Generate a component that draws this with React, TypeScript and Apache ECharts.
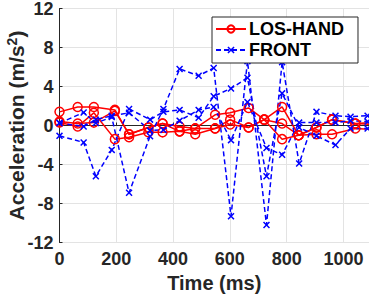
import React, { useEffect, useRef } from "react";
import * as echarts from "echarts";

const redTimes = [0, 64, 121, 195, 245, 313, 363, 423, 478, 548, 601, 666, 721, 784, 842, 905, 960, 1042, 1100];
const red1 = [1.4, 1.9, 1.9, 1.6, -0.9, -0.2, 0.2, -0.1, -0.3, 1.1, 1.3, 1.8, 0.6, 1.9, -1.0, -0.2, 0.6, 0.2, 0.3];
const red2 = [0.3, -0.1, 1.3, -1.4, -1.2, -0.7, -0.7, -0.6, -0.9, -0.3, 0.1, -0.2, 0.6, 0.2, -1.0, -0.9, -0.9, -0.3, -0.4];
const red3 = [0.4, 0.2, 0.3, 1.5, -0.9, -0.2, 0.2, -0.6, -0.3, -0.3, 0.6, -0.2, 0.6, -1.4, -1.0, -0.2, 0.6, 0.2, 0.1];

const blueTimes = [0, 85, 128, 184, 245, 319, 366, 423, 490, 543, 604, 662, 729, 784, 844, 905, 972, 1025, 1085];
const blue1 = [0.25, 1.33, 0.25, 0.86, -6.9, -1.1, 1.7, 5.8, 5.1, 5.9, -9.3, 6.6, -10.2, 6.5, -3.9, 1.4, 1.0, 0.9, 1.0];
const blue2 = [-1.06, -1.74, -5.2, -2.5, 1.7, 0.6, 1.4, 1.6, 0.8, 3.0, 3.8, 4.9, -5.2, 3.3, -0.2, -1.06, -2.0, -0.3, -0.3];
const blue3 = [0.25, -0.1, 0.6, 1.0, 1.3, -0.5, -0.45, 0.5, 1.6, 1.9, -1.5, 2.4, -2.3, -3.0, 0.3, 0.3, 0.3, 0.5, 0.4];

const seriesNames = ["LOS-HAND", "FRONT"];
const xTickMax = 1090;
const yMin = -12;
const yMax = 12;

const FONT = "'Liberation Sans', Arial, Helvetica, sans-serif";
const X_SYMBOL =
  "path://M0,1.5L1.5,0L5,3.5L8.5,0L10,1.5L6.5,5L10,8.5L8.5,10L5,6.5L1.5,10L0,8.5L3.5,5Z";

function pairs(xs: number[], ys: number[]) {
  return xs.map((x, i) => [x, ys[i]]);
}

export default function App() {
  const ref = useRef<HTMLDivElement>(null);
  useEffect(() => {
    if (!ref.current) return;
    const chart = echarts.init(ref.current, undefined, { renderer: "svg" });
    const redSeries = [red1, red2, red3].map((ys) => ({
      type: "line",
      name: seriesNames[0],
      data: pairs(redTimes, ys),
      symbol: "circle",
      symbolSize: 9,
      showAllSymbol: true,
      lineStyle: { color: "#ff0000", width: 1.5 },
      itemStyle: { color: "rgba(255,255,255,0)", borderColor: "#ff0000", borderWidth: 1.5 },
      color: "#ff0000",
    }));
    const blueSeries = [blue1, blue2, blue3].map((ys) => ({
      type: "line",
      name: seriesNames[1],
      data: pairs(blueTimes, ys),
      symbol: X_SYMBOL,
      symbolSize: 7,
      showAllSymbol: true,
      lineStyle: { color: "#0000ff", width: 1.5, type: [5, 3] },
      itemStyle: { color: "#0000ff", borderWidth: 0 },
      color: "#0000ff",
    }));
    chart.setOption({
      animation: false,
      backgroundColor: "#ffffff",
      textStyle: { fontFamily: FONT },
      grid: {
        left: 59.5,
        right: 0,
        top: 8.5,
        bottom: 51.5,
        containLabel: false,
        outerBoundsMode: "none",
      },
      legend: {
        data: seriesNames,
        orient: "vertical",
        left: 212,
        top: 17,
        backgroundColor: "#ffffff",
        borderColor: "#262626",
        borderWidth: 1,
        borderRadius: 0,
        padding: [3, 14, 4, 3],
        itemWidth: 30,
        itemHeight: 9,
        itemGap: 3,
        textStyle: { fontSize: 18, fontWeight: "bold", color: "#000000", fontFamily: FONT, padding: [0, 0, 0, -2] },
      },
      xAxis: {
        type: "value",
        min: 0,
        max: xTickMax,
        interval: 200,
        name: "Time (ms)",
        nameLocation: "middle",
        nameGap: 30,
        nameMoveOverlap: false,
        nameTextStyle: { fontSize: 20, fontWeight: "bold", color: "#262626", fontFamily: FONT },
        axisLine: { show: true, lineStyle: { color: "#262626", width: 1 } },
        axisTick: { show: true, inside: true, length: 3, lineStyle: { color: "#262626" } },
        axisLabel: {
          fontSize: 18,
          fontWeight: "bold",
          color: "#262626",
          margin: 7,
          fontFamily: FONT,
          formatter: (v: number) => String(v),
        },
        splitLine: { show: true, lineStyle: { color: "#e3e3e3", width: 1 } },
      },
      yAxis: {
        type: "value",
        min: yMin,
        max: yMax,
        interval: 4,
        name: "Acceleration (m/s{sup|2})",
        nameLocation: "middle",
        nameGap: 31,
        nameMoveOverlap: false,
        nameTextStyle: {
          fontSize: 21,
          fontWeight: "bold",
          color: "#262626",
          fontFamily: FONT,
          rich: {
            sup: {
              fontSize: 14,
              fontWeight: "bold",
              color: "#262626",
              fontFamily: FONT,
              verticalAlign: "top",
              lineHeight: 24,
            },
          },
        },
        axisLine: { show: true, lineStyle: { color: "#262626", width: 1 } },
        axisTick: { show: true, inside: true, length: 3, lineStyle: { color: "#262626" } },
        axisLabel: {
          fontSize: 18,
          fontWeight: "bold",
          color: "#262626",
          margin: 6,
          fontFamily: FONT,
          formatter: (v: number) => String(v),
        },
        splitLine: { show: true, lineStyle: { color: "#e3e3e3", width: 1 } },
      },
      series: [...redSeries, ...blueSeries],
    });
    return () => chart.dispose();
  }, []);
  return (
    <div
      ref={ref}
      style={{ position: "fixed", left: 0, top: 0, width: 369, height: 294, background: "#fff" }}
    />
  );
}
